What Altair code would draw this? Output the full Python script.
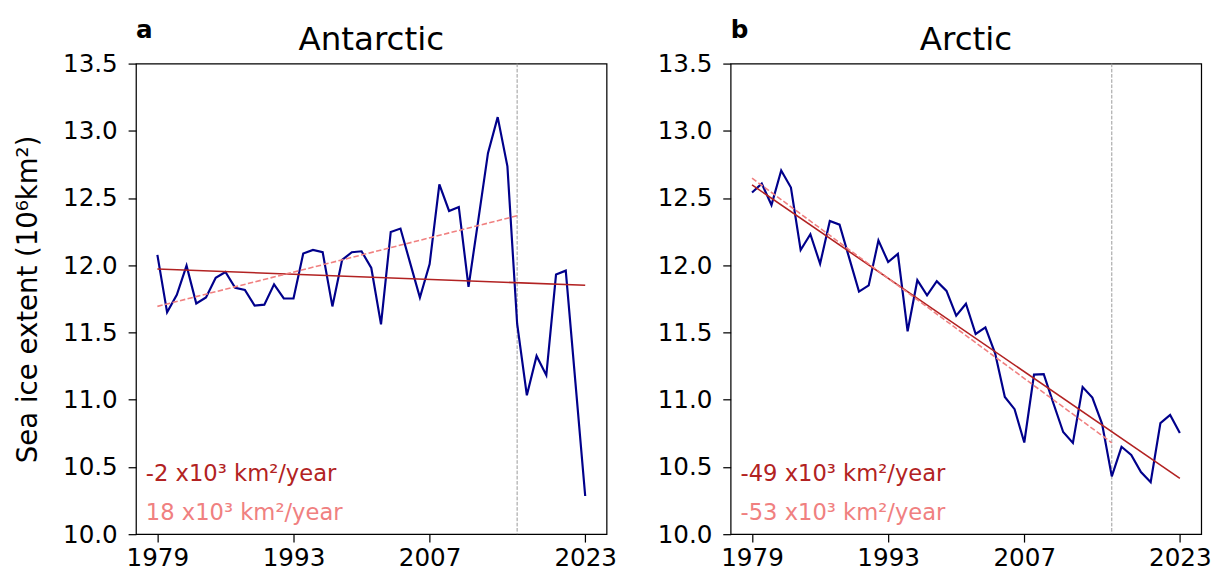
import altair as alt
import pandas as pd

years = list(range(1979, 2024))

antarctic = [12.077, 11.65, 11.78, 11.997, 11.716, 11.76, 11.907, 11.95, 11.833, 11.816,
             11.70, 11.707, 11.858, 11.753, 11.753, 12.087, 12.114, 12.097, 11.694, 12.04,
             12.097, 12.104, 11.98, 11.56, 12.248, 12.273, 12.016, 11.76, 12.009, 12.602,
             12.404, 12.434, 11.84, 12.334, 12.834, 13.102, 12.736, 11.565, 11.033, 11.326,
             11.182, 11.931, 11.96, 11.124, 10.284]

arctic = [12.541, 12.607, 12.448, 12.705, 12.578, 12.114, 12.231, 12.011, 12.329, 12.302,
          12.053, 11.804, 11.85, 12.185, 12.024, 12.085, 11.509, 11.889, 11.777, 11.882,
          11.809, 11.626, 11.714, 11.489, 11.538, 11.345, 11.021, 10.93, 10.682, 11.187,
          11.19, 10.972, 10.76, 10.679, 11.094, 11.016, 10.821, 10.43, 10.65, 10.589,
          10.462, 10.386, 10.826, 10.887, 10.752]

x_ticks = [1979, 1993, 2007, 2023]
y_ticks = [10.0, 10.5, 11.0, 11.5, 12.0, 12.5, 13.0, 13.5]
split_year = 2016
ant_labels = ["-2 x10³ km²/year", "18 x10³ km²/year"]
arc_labels = ["-49 x10³ km²/year", "-53 x10³ km²/year"]

FONT = "DejaVu Sans"
NAVY = "#00008B"
RED = "#B22222"
PINK = "#F08080"
W = 478
H = 478


def text_layer(txt, color, x, y, size, weight="normal", align="left"):
    return alt.Chart(pd.DataFrame({"t": [txt]})).mark_text(
        align=align, baseline="alphabetic", font=FONT, fontSize=size,
        fontWeight=weight, color=color).encode(
        x=alt.value(x), y=alt.value(y), text="t:N")


def panel(values, title, letter, labels, ytitle):
    df = pd.DataFrame({"year": years, "value": values})
    x_enc = alt.X("year:Q", scale=alt.Scale(domain=[1976.8, 2025.2], nice=False, zero=False),
                  axis=alt.Axis(values=x_ticks, format="d", title=None, labelPadding=4))
    yaxis = alt.Axis(values=y_ticks, format=".1f", labelPadding=11,
                     title=ytitle if ytitle else None, titlePadding=20,
                     titleFontSize=28, titleFontWeight="normal", titleFont=FONT,
                     titleColor="black")
    y_enc = alt.Y("value:Q", scale=alt.Scale(domain=[10, 13.5], nice=False, zero=False),
                  axis=yaxis)

    base = alt.Chart(df)
    rule = alt.Chart(pd.DataFrame({"year": [split_year]})).mark_rule(
        color="#999999", strokeWidth=1, strokeDash=[3.7, 1.6]).encode(x=x_enc)
    line = base.mark_line(color=NAVY, strokeWidth=2.2).encode(x=x_enc, y=y_enc)
    trend_all = base.transform_regression(
        "year", "value", extent=[1979, 2023]).mark_line(
        color=RED, strokeWidth=1.6).encode(x=x_enc, y=y_enc)
    trend_early = base.transform_filter(alt.datum.year <= split_year).transform_regression(
        "year", "value", extent=[1979, split_year]).mark_line(
        color=PINK, strokeWidth=1.6, strokeDash=[5.5, 2.4]).encode(x=x_enc, y=y_enc)

    lab1 = text_layer(labels[0], RED, 10, 424, 23)
    lab2 = text_layer(labels[1], PINK, 10, 464, 23)
    let = text_layer(letter, "black", 0, -26, 25, weight="bold")
    ttl = text_layer(title, "black", W / 2, -14, 33, align="center")

    return alt.layer(rule, line, trend_all, trend_early, lab1, lab2, let, ttl).properties(
        width=W, height=H)


left = panel(antarctic, "Antarctic", "a", ant_labels, "Sea ice extent (10⁶km²)")
right = panel(arctic, "Arctic", "b", arc_labels, None)

chart = alt.hconcat(left, right, spacing=126, bounds="flush").properties(
    padding={"left": 6, "top": 5, "right": 5, "bottom": 0}
).configure_view(
    stroke="black", strokeWidth=1.25
).configure_axis(
    labelFont=FONT, labelFontSize=25, labelColor="black", tickColor="black",
    tickSize=8, tickWidth=1.25, domain=False, grid=False
)

chart.save("out.html", embed_options={"renderer": "svg", "actions": False})
